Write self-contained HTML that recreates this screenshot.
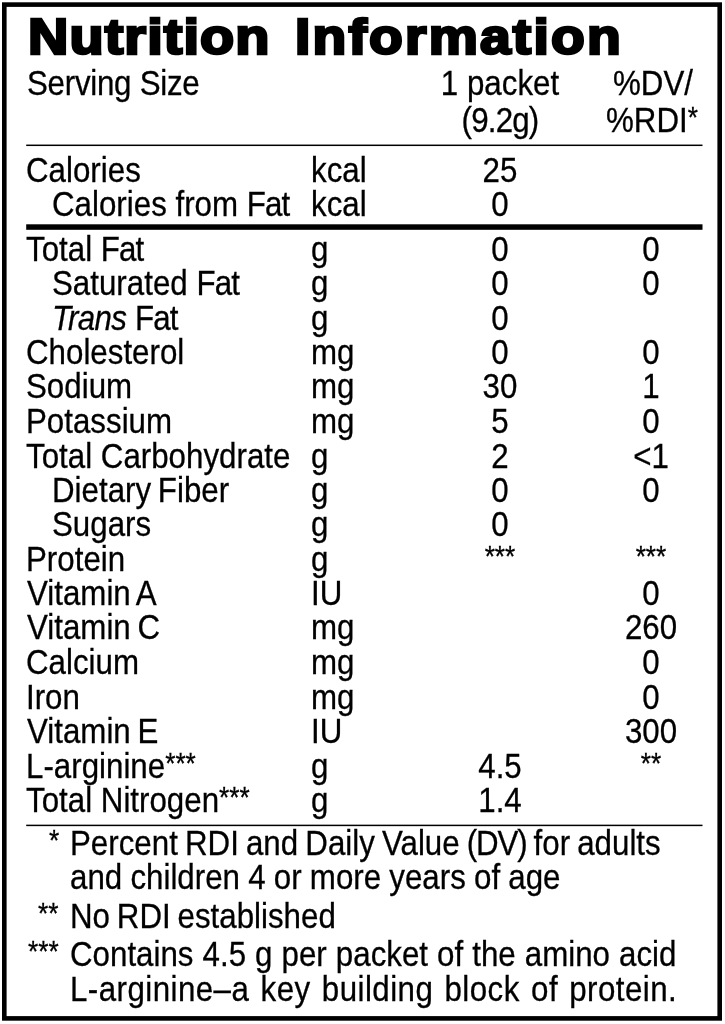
<!DOCTYPE html>
<html lang="en"><head><meta charset="utf-8"><title>Nutrition Information</title>
<style>
html,body{margin:0;padding:0;background:#fff;}
body{width:725px;height:1024px;position:relative;overflow:hidden;font-family:"Liberation Sans",Arial,Helvetica,sans-serif;color:#000;}
.fr{position:absolute;left:0;top:0;}
.title{position:absolute;left:30px;top:2px;height:70px;line-height:70px;font-size:50.4px;font-weight:bold;white-space:nowrap;transform-origin:0 50%;transform:scaleX(1.1);-webkit-text-stroke:2.7px #000;letter-spacing:1.0px;}
.t{position:absolute;height:50px;line-height:50px;font-size:35.0px;white-space:nowrap;-webkit-text-stroke:0.3px #000;}
.l{transform-origin:0 50%;transform:scaleX(0.894);}
.c{width:300px;text-align:center;transform-origin:50% 50%;transform:scaleX(0.894);}
.a{font-size:0.84em;position:relative;top:-5.4px;}
.k3{letter-spacing:-1.3px}.k{letter-spacing:-0.95px}.k2{letter-spacing:-0.75px}
.hr{position:absolute;left:26.2px;width:676.3px;background:#000;}
</style></head><body>
<svg class="fr" width="725" height="1024" viewBox="0 0 725 1024"><rect x="4.3" y="4.6" width="715.4" height="1013.8" fill="none" stroke="#000" stroke-width="4.6"/><rect x="26.2" y="144.55" width="676.3" height="1.5"/><rect x="26.2" y="224.3" width="676.3" height="5.5"/><rect x="26.2" y="824.65" width="676.3" height="1.5"/></svg>
<div class="title" style="left:28px;transform:scaleX(1.108)">Nutrition</div><div class="title" style="left:295.2px;transform:scaleX(1.096);letter-spacing:2.0px">Information</div>
<div class="t l " style="left:26.6px;top:58px;letter-spacing:-0.3px">Serving Size</div>
<div class="t c " style="left:350px;top:58px">1 packet</div>
<div class="t c " style="left:350.3px;top:95px;letter-spacing:-0.9px">(9.2g)</div>
<div class="t c " style="left:502.5px;top:58px">%DV/</div>
<div class="t c " style="left:502px;top:95px">%RDI<span class="a">*</span></div>
<div class="t l " style="left:26px;top:145px">Calories</div>
<div class="t l " style="left:311px;top:145px">kcal</div>
<div class="t c " style="left:350px;top:145px">25</div>
<div class="t l " style="left:52px;top:179px">Calories from <span class="k">Fat</span></div>
<div class="t l " style="left:311px;top:179px">kcal</div>
<div class="t c " style="left:350px;top:179px">0</div>
<div class="t l " style="left:26px;top:224px">Total <span class="k">Fat</span></div>
<div class="t l " style="left:311px;top:224px">g</div>
<div class="t c " style="left:350px;top:224px">0</div>
<div class="t c " style="left:501px;top:224px">0</div>
<div class="t l " style="left:52px;top:258px">Saturated <span class="k">Fat</span></div>
<div class="t l " style="left:311px;top:258px">g</div>
<div class="t c " style="left:350px;top:258px">0</div>
<div class="t c " style="left:501px;top:258px">0</div>
<div class="t l " style="left:52.0px;top:293px"><i class="k2">Trans</i> <span class="k">Fat</span></div>
<div class="t l " style="left:311px;top:293px">g</div>
<div class="t c " style="left:350px;top:293px">0</div>
<div class="t l " style="left:26px;top:327px">Cholesterol</div>
<div class="t l " style="left:311px;top:327px">mg</div>
<div class="t c " style="left:350px;top:327px">0</div>
<div class="t c " style="left:501px;top:327px">0</div>
<div class="t l " style="left:26px;top:361px">Sodium</div>
<div class="t l " style="left:311px;top:361px">mg</div>
<div class="t c " style="left:350px;top:361px">30</div>
<div class="t c " style="left:501px;top:361px">1</div>
<div class="t l " style="left:26px;top:396px">Potassium</div>
<div class="t l " style="left:311px;top:396px">mg</div>
<div class="t c " style="left:350px;top:396px">5</div>
<div class="t c " style="left:501px;top:396px">0</div>
<div class="t l " style="left:26px;top:431px">Total Carbohydrate</div>
<div class="t l " style="left:311px;top:431px">g</div>
<div class="t c " style="left:350px;top:431px">2</div>
<div class="t c " style="left:501px;top:431px">&lt;1</div>
<div class="t l " style="left:52px;top:465px;word-spacing:-2.2px">Dietary Fiber</div>
<div class="t l " style="left:311px;top:465px">g</div>
<div class="t c " style="left:350px;top:465px">0</div>
<div class="t c " style="left:501px;top:465px">0</div>
<div class="t l " style="left:52px;top:499px">Sugars</div>
<div class="t l " style="left:311px;top:499px">g</div>
<div class="t c " style="left:350px;top:499px">0</div>
<div class="t l " style="left:26px;top:534px">Protein</div>
<div class="t l " style="left:311px;top:534px">g</div>
<div class="t c " style="left:350px;top:534px"><span class="a">***</span></div>
<div class="t c " style="left:501px;top:534px"><span class="a">***</span></div>
<div class="t l " style="left:27px;top:568px;word-spacing:-2.2px">Vitamin A</div>
<div class="t l " style="left:311px;top:568px">IU</div>
<div class="t c " style="left:501px;top:568px">0</div>
<div class="t l " style="left:27px;top:602px;word-spacing:-2.2px">Vitamin C</div>
<div class="t l " style="left:311px;top:602px">mg</div>
<div class="t c " style="left:501px;top:602px">260</div>
<div class="t l " style="left:26px;top:637px">Calcium</div>
<div class="t l " style="left:311px;top:637px">mg</div>
<div class="t c " style="left:501px;top:637px">0</div>
<div class="t l " style="left:26px;top:672px">Iron</div>
<div class="t l " style="left:311px;top:672px">mg</div>
<div class="t c " style="left:501px;top:672px">0</div>
<div class="t l " style="left:27px;top:706px;word-spacing:-2.2px">Vitamin E</div>
<div class="t l " style="left:311px;top:706px">IU</div>
<div class="t c " style="left:501px;top:706px">300</div>
<div class="t l " style="left:26px;top:741px">L-arginine<span class="a">***</span></div>
<div class="t l " style="left:311px;top:741px">g</div>
<div class="t c " style="left:350px;top:741px">4.5</div>
<div class="t c " style="left:501px;top:741px"><span class="a">**</span></div>
<div class="t l " style="left:26px;top:775px">Total Nitrogen<span class="a">***</span></div>
<div class="t l " style="left:311px;top:775px">g</div>
<div class="t c " style="left:350px;top:775px">1.4</div>
<div class="t l " style="left:49px;top:818px"><span class="a">*</span></div>
<div class="t l " style="left:70.4px;top:818px;word-spacing:-1.76px">Percent RDI and Daily Value <span class="k3">(DV)</span> for adults</div>
<div class="t l " style="left:70.4px;top:852px;word-spacing:-0.55px">and children 4 or more years of age</div>
<div class="t l " style="left:38px;top:891px"><span class="a">**</span></div>
<div class="t l " style="left:70.4px;top:891px;word-spacing:-2.1px">No RDI established</div>
<div class="t l " style="left:27.5px;top:929px"><span class="a">***</span></div>
<div class="t l " style="left:70.4px;top:929px;word-spacing:0.4px">Contains 4.5 g per packet of the amino acid</div>
<div class="t l " style="left:70px;top:964px;word-spacing:2.35px;letter-spacing:0.5px">L-arginine&ndash;a key building block of protein.</div>
</body></html>
